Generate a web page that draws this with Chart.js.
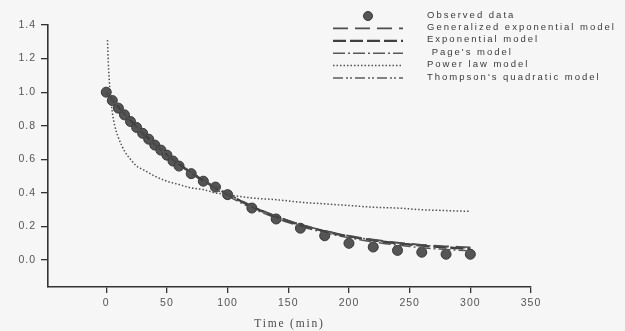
<!DOCTYPE html>
<html>
<head>
<meta charset="utf-8">
<title>Moisture ratio vs drying time</title>
<script src="https://cdn.jsdelivr.net/npm/chart.js@4.4.1/dist/chart.umd.min.js"></script>
<style>
  html, body { margin: 0; padding: 0; background: #f5f6f5; }
  canvas { display: block; }
</style>
</head>
<body>
<canvas id="chart" width="625" height="331"></canvas>
<script>
// Drying time (min) and moisture ratio of the observed samples
const observedTime = [0, 5, 10, 15, 20, 25, 30, 35, 40, 45, 50, 55, 60,
  70, 80, 90, 100, 120, 140, 160, 180, 200, 220, 240, 260, 280, 300];
const observedMR = [1.00, 0.95, 0.905, 0.865, 0.825, 0.79, 0.755, 0.72, 0.685, 0.655, 0.625, 0.59, 0.56,
  0.515, 0.47, 0.435, 0.39, 0.31, 0.245, 0.19, 0.145, 0.10, 0.078, 0.058, 0.047, 0.035, 0.035];

// Predicted moisture ratio of the thin-layer models
const modelTime = [0, 10, 20, 30, 40, 50, 60, 70, 80, 90, 100, 110, 120, 130, 140, 150,
  160, 170, 180, 190, 200, 210, 220, 230, 240, 250, 260, 270, 280, 290, 300];
const generalizedExpMR = [1.000, 0.913, 0.833, 0.760, 0.693, 0.631, 0.575, 0.524, 0.477, 0.434, 0.395,
  0.358, 0.323, 0.291, 0.262, 0.236, 0.213, 0.193, 0.175, 0.159, 0.145, 0.133, 0.122, 0.113, 0.105,
  0.098, 0.092, 0.087, 0.083, 0.080, 0.077];
const exponentialMR = [1.000, 0.912, 0.831, 0.757, 0.690, 0.628, 0.572, 0.521, 0.474, 0.431, 0.392,
  0.355, 0.318, 0.287, 0.258, 0.232, 0.209, 0.189, 0.171, 0.155, 0.141, 0.129, 0.118, 0.108, 0.100,
  0.093, 0.086, 0.080, 0.075, 0.071, 0.067];
const pageMR = [1.000, 0.916, 0.836, 0.761, 0.691, 0.627, 0.569, 0.516, 0.467, 0.423, 0.383,
  0.345, 0.310, 0.279, 0.250, 0.224, 0.201, 0.181, 0.163, 0.147, 0.133, 0.120, 0.108, 0.098, 0.089,
  0.081, 0.074, 0.068, 0.063, 0.059, 0.055];
const thompsonMR = [1.000, 0.908, 0.826, 0.752, 0.686, 0.626, 0.572, 0.522, 0.476, 0.434, 0.395,
  0.357, 0.321, 0.289, 0.260, 0.234, 0.211, 0.191, 0.174, 0.158, 0.144, 0.131, 0.120, 0.110, 0.102,
  0.095, 0.089, 0.084, 0.079, 0.075, 0.072];

// Power law model starts just after t = 0
const powerTime = [1, 2, 3, 5, 7, 10, 15, 20, 25, 30, 40, 50, 60, 70, 80, 90, 100,
  120, 140, 160, 180, 200, 220, 240, 260, 280, 300];
const powerMR = [1.31, 1.13, 1.02, 0.88, 0.80, 0.73, 0.65, 0.60, 0.56, 0.54, 0.50, 0.47, 0.45, 0.43, 0.42, 0.40, 0.39,
  0.37, 0.36, 0.345, 0.335, 0.325, 0.315, 0.31, 0.30, 0.295, 0.29];

// Axis ticks
const xTicks = [0, 50, 100, 150, 200, 250, 300, 350];
const yTicks = [0.0, 0.2, 0.4, 0.6, 0.8, 1.0, 1.2, 1.4];

const seriesLabels = ['Observed data', 'Generalized exponential model', 'Exponential model',
  " Page's model", 'Power law model', "Thompson's quadratic model"];

const pairs = (xs, ys) => xs.map((x, i) => ({ x, y: ys[i] }));

const lineStyle = (label, xs, ys, color, width, dash) => ({
  type: 'line',
  label,
  data: pairs(xs, ys),
  borderColor: color,
  borderWidth: width,
  borderDash: dash,
  pointRadius: 0,
  fill: false,
  cubicInterpolationMode: 'monotone',
  order: 0
});

const datasets = [
  {
    type: 'scatter',
    label: seriesLabels[0],
    data: pairs(observedTime, observedMR),
    showLine: false,
    pointRadius: 5,
    pointBackgroundColor: '#555555',
    pointBorderColor: '#383838',
    pointBorderWidth: 1,
    order: 1
  },
  lineStyle(seriesLabels[1], modelTime, generalizedExpMR, '#4e4e4e', 1.6, [15, 7]),
  lineStyle(seriesLabels[2], modelTime, exponentialMR, '#404040', 2.3, [13, 4]),
  lineStyle(seriesLabels[3], modelTime, pageMR, '#585858', 1.5, [12, 3, 2, 3]),
  lineStyle(seriesLabels[4], powerTime, powerMR, '#505050', 1.5, [1.5, 2]),
  lineStyle(seriesLabels[5], modelTime, thompsonMR, '#5e5e5e', 1.5, [10, 3, 2, 2, 2, 3])
];

// Page background and default text spacing
const backdrop = {
  id: 'backdrop',
  beforeDraw(chart) {
    const ctx = chart.ctx;
    ctx.save();
    ctx.fillStyle = '#f5f6f5';
    ctx.fillRect(0, 0, chart.width, chart.height);
    ctx.restore();
    ctx.letterSpacing = '1px';
  }
};

// Legend block in the upper right, one row per series
const sideLegend = {
  id: 'sideLegend',
  afterDraw(chart) {
    const ctx = chart.ctx;
    const x0 = 333, x1 = 403, textX = 427, top = 15, step = 12.4;
    ctx.save();
    chart.data.datasets.forEach((ds, i) => {
      const y = top + i * step;
      if (ds.showLine === false) {
        ctx.beginPath();
        ctx.fillStyle = ds.pointBackgroundColor;
        ctx.strokeStyle = ds.pointBorderColor;
        ctx.lineWidth = 1;
        ctx.arc((x0 + x1) / 2, y + 1, 4.5, 0, Math.PI * 2);
        ctx.fill();
        ctx.stroke();
      } else {
        ctx.beginPath();
        ctx.setLineDash(ds.borderDash);
        ctx.strokeStyle = ds.borderColor;
        ctx.lineWidth = ds.borderWidth;
        ctx.moveTo(x0, y + 1);
        ctx.lineTo(x1, y + 1);
        ctx.stroke();
        ctx.setLineDash([]);
      }
      ctx.letterSpacing = '2px';
      ctx.font = '9.5px "Liberation Sans", Arial, sans-serif';
      ctx.fillStyle = '#3a3a3a';
      ctx.textAlign = 'left';
      ctx.textBaseline = 'middle';
      ctx.fillText(ds.label, textX, y);
    });
    ctx.restore();
  }
};

// Horizontal axis title
const axisTitle = {
  id: 'axisTitle',
  afterDraw(chart) {
    const ctx = chart.ctx;
    const area = chart.chartArea;
    ctx.save();
    ctx.letterSpacing = '1.8px';
    ctx.font = '11.5px "Liberation Serif", "Times New Roman", serif';
    ctx.fillStyle = '#4a4a4a';
    ctx.textAlign = 'center';
    ctx.textBaseline = 'middle';
    ctx.fillText('Time (min)', (area.left + area.right) / 2, 324);
    ctx.restore();
  }
};

new Chart(document.getElementById('chart'), {
  data: { datasets },
  options: {
    responsive: false,
    animation: false,
    events: [],
    layout: { padding: { top: 25, right: 94, left: 0, bottom: 0 } },
    plugins: { legend: { display: false }, tooltip: { enabled: false } },
    scales: {
      x: {
        type: 'linear',
        min: -48,
        max: 350,
        afterBuildTicks: s => { s.ticks = xTicks.map(v => ({ value: v })); },
        afterFit: s => { s.height = 44; },
        ticks: {
          color: '#555',
          padding: 4,
          font: { family: '"Liberation Sans", Arial, sans-serif', size: 10.5 },
          callback: v => String(v)
        },
        grid: { display: true, drawOnChartArea: false, drawTicks: true, tickLength: 6, color: '#333', lineWidth: 1.3 },
        border: { display: true, color: '#333', width: 1.6 }
      },
      y: {
        type: 'linear',
        min: -0.16,
        max: 1.4,
        afterBuildTicks: s => { s.ticks = yTicks.map(v => ({ value: v })); },
        afterFit: s => { s.width = 48; },
        ticks: {
          color: '#555',
          padding: 5,
          font: { family: '"Liberation Sans", Arial, sans-serif', size: 10.5 },
          callback: v => Number(v).toFixed(1)
        },
        grid: { display: true, drawOnChartArea: false, drawTicks: true, tickLength: 7, color: '#333', lineWidth: 1.3 },
        border: { display: true, color: '#333', width: 1.6 }
      }
    }
  },
  plugins: [backdrop, sideLegend, axisTitle]
});
</script>
</body>
</html>
